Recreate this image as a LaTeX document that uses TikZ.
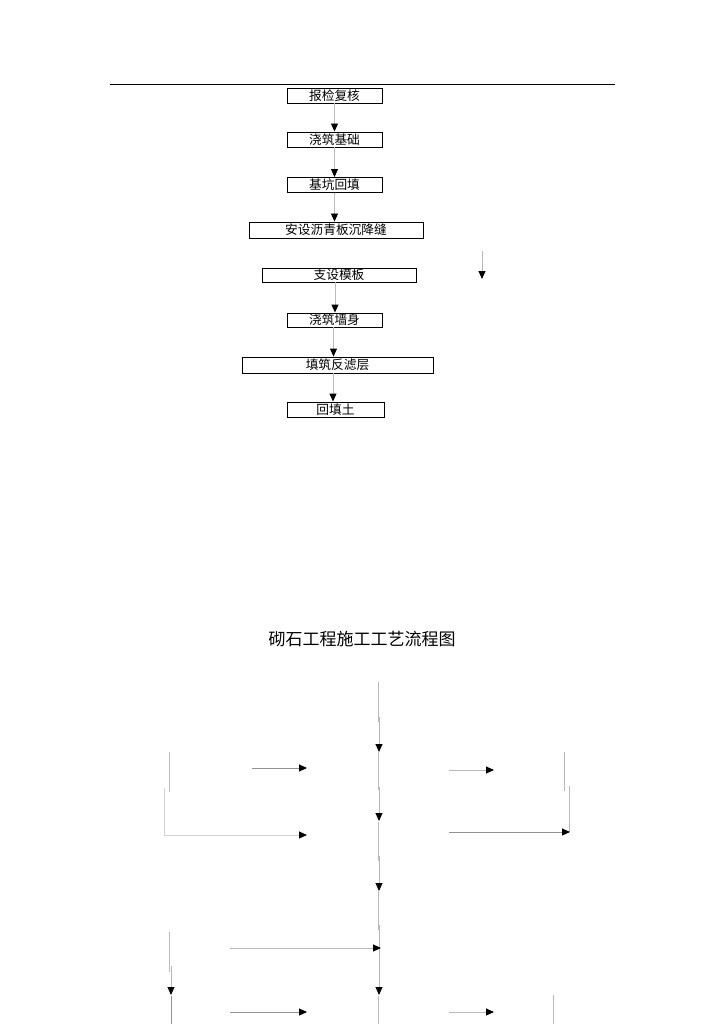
\documentclass[tikz,border=0pt]{standalone}
\usepackage{fontspec}
\newfontfamily\cjk{Noto Sans CJK SC}
\usetikzlibrary{arrows.meta}
\tikzset{
  box/.style={draw=black,line width=0.9pt,minimum height=15pt,inner sep=0pt,font=\cjk\fontsize{12.7}{12.7}\selectfont},
  conn/.style={draw=gray!55,line width=0.9pt},
  dconn/.style={draw=gray!85,line width=0.9pt},
  arr/.style={-{Triangle[length=8pt,width=7pt,color=black]}},
}
\begin{document}
\begin{tikzpicture}[x=1pt,y=-1pt]
\useasboundingbox (0,0) rectangle (724,1024);
% top rule
\coordinate (r1) at (110,85);
\coordinate (r2) at (615,85);
\draw[line width=1pt] (r1) -- (r2);
% upper flow
\node[box,minimum width=95pt] (b1) at (334.5,95.5) {报检复核};
\node[box,minimum width=95pt] (b2) at (334.5,139.5) {浇筑基础};
\node[box,minimum width=95pt] (b3) at (334.5,185) {基坑回填};
\node[box,minimum width=174pt,minimum height=16pt] (b4) at (336,230) {安设沥青板沉降缝};
\node[box,minimum width=154pt,minimum height=14pt] (b5) at (339,275) {支设模板};
\node[box,minimum width=95pt,minimum height=14pt] (b6) at (334.5,320) {浇筑墙身};
\node[box,minimum width=191pt,minimum height=16pt] (b7) at (337.5,365) {填筑反滤层};
\node[box,minimum width=97pt] (b8) at (335.5,409.5) {回填土};
\draw[conn,arr] (b1.south) -- (b1.south |- b2.north);
\draw[conn,arr] (b2.south) -- (b2.south |- b3.north);
\draw[conn,arr] (b3.south) -- (b3.south |- b4.north);
\draw[conn,arr] ([xshift=-4pt]b5.south) -- ([xshift=-4pt]b5.south |- b6.north);
\draw[conn,arr] ([xshift=-4pt]b7.north |- b6.south) -- ([xshift=-4pt]b7.north);
\draw[conn,arr] ([xshift=-4.5pt]b7.south) -- ([xshift=-4.5pt]b7.south |- b8.north);
\coordinate (la1) at (482,251);
\coordinate (la2) at (482,279);
\draw[conn,arr] (la1) -- (la2);
% title
\node[font=\cjk\fontsize{17}{17}\selectfont] (title) at (362,639) {砌石工程施工工艺流程图};
% lower fragments: centre column
\coordinate (c1) at (378,682); \coordinate (c2) at (378,722);
\coordinate (c3) at (379,717); \coordinate (c4) at (379,752);
\coordinate (c5) at (378,752); \coordinate (c6) at (378,790);
\coordinate (c7) at (379,787); \coordinate (c8) at (379,821);
\coordinate (c9) at (378,822); \coordinate (c10) at (378,861);
\coordinate (c11) at (379,856); \coordinate (c12) at (379,891);
\coordinate (c13) at (378,890); \coordinate (c14) at (378,930);
\coordinate (c15) at (379,925); \coordinate (c16) at (379,995);
\coordinate (c17) at (378,996); \coordinate (c18) at (378,1024);
\draw[conn] (c1) -- (c2);
\draw[conn,arr] (c3) -- (c4);
\draw[conn] (c5) -- (c6);
\draw[conn,arr] (c7) -- (c8);
\draw[conn] (c9) -- (c10);
\draw[conn,arr] (c11) -- (c12);
\draw[conn] (c13) -- (c14);
\draw[conn,arr] (c15) -- (c16);
\draw[conn] (c17) -- (c18);
% left fragments
\coordinate (l1) at (169,752); \coordinate (l2) at (169,792);
\coordinate (l3) at (164,788); \coordinate (l4) at (164,835); \coordinate (l5) at (307,835);
\coordinate (l6) at (252,768); \coordinate (l7) at (307,768);
\coordinate (l8) at (169,932); \coordinate (l9) at (169,972);
\coordinate (l10) at (171,966); \coordinate (l11) at (171,995);
\coordinate (l12) at (171,996); \coordinate (l13) at (171,1024);
\coordinate (l14) at (230,948); \coordinate (l15) at (381,948);
\coordinate (l16) at (230,1012); \coordinate (l17) at (307,1012);
\draw[conn] (l1) -- (l2);
\draw[conn,draw=gray!35,arr] (l3) -- (l4) -- (l5);
\draw[dconn,arr] (l6) -- (l7);
\draw[conn] (l8) -- (l9);
\draw[conn,arr] (l10) -- (l11);
\draw[dconn] (l12) -- (l13);
\draw[conn,arr] (l14) -- (l15);
\draw[dconn,arr] (l16) -- (l17);
% right fragments
\coordinate (q1) at (449,770); \coordinate (q2) at (494,770);
\coordinate (q3) at (564,752); \coordinate (q4) at (564,791);
\coordinate (q5) at (569,786); \coordinate (q6) at (569,832);
\coordinate (q7) at (449,832); \coordinate (q8) at (570,832);
\coordinate (q9) at (449,1012); \coordinate (q10) at (494,1012);
\coordinate (q11) at (553,995); \coordinate (q12) at (553,1024);
\draw[conn,arr] (q1) -- (q2);
\draw[conn] (q3) -- (q4);
\draw[conn] (q5) -- (q6);
\draw[dconn,arr] (q7) -- (q8);
\draw[conn,arr] (q9) -- (q10);
\draw[conn] (q11) -- (q12);
\end{tikzpicture}
\end{document}
